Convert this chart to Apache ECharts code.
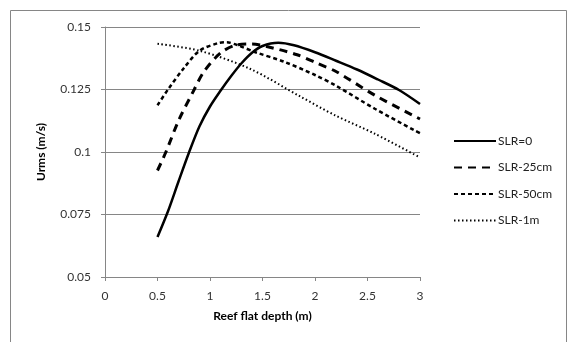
<!DOCTYPE html>
<html>
<head>
<meta charset="utf-8">
<script src="https://cdn.jsdelivr.net/npm/echarts@6/dist/echarts.min.js"></script>
<style>
  html, body { margin: 0; padding: 0; background: #fff; }
  #chart { width: 576px; height: 342px; }
</style>
</head>
<body>
<div id="chart"></div>
<script>
var slr0_x = [0.5, 0.6, 0.7, 0.8, 0.9, 1.0, 1.1, 1.2, 1.3, 1.4, 1.5, 1.65, 1.8, 2.0, 2.2, 2.4, 2.6, 2.8, 3.0];
var slr0_y = [0.066, 0.0763, 0.0882, 0.0998, 0.1103, 0.1182, 0.1245, 0.1303, 0.1355, 0.1397, 0.1424, 0.1437, 0.1427, 0.1399, 0.1365, 0.133, 0.129, 0.1248, 0.1192];

var slr25_x = [0.5, 0.58, 0.7, 0.85, 0.94, 1.1, 1.25, 1.4, 1.54, 1.83, 2.02, 2.2, 2.57, 2.93, 3.0];
var slr25_y = [0.0926, 0.1, 0.1125, 0.125, 0.132, 0.1396, 0.1428, 0.1432, 0.1422, 0.1389, 0.1355, 0.1322, 0.1227, 0.1147, 0.1132];

var slr50_x = [0.5, 0.6, 0.75, 0.9, 1.08, 1.16, 1.27, 1.44, 1.7, 2.0, 2.2, 2.57, 2.95, 3.0];
var slr50_y = [0.1187, 0.125, 0.1335, 0.1405, 0.1436, 0.1439, 0.1426, 0.1398, 0.1362, 0.1308, 0.1265, 0.1173, 0.1086, 0.1075];

var slr1m_x = [0.5, 0.9, 1.38, 1.86, 2.19, 2.57, 3.0];
var slr1m_y = [0.1433, 0.1405, 0.1333, 0.1222, 0.1147, 0.1073, 0.0978];

var seriesNames = ['SLR=0', 'SLR-25cm', 'SLR-50cm', 'SLR-1m'];

var pairs = function (xs, ys) {
    return xs.map(function (x, i) { return [x, ys[i]]; });
};

var gray = '#868686';
var font = 'Lato, "Open Sans", sans-serif';

var mkLine = function (name, data, width, dash) {
    return {
        name: name,
        type: 'line',
        data: data,
        smooth: 0.3,
        symbol: 'none',
        lineStyle: { color: '#000', width: width, type: dash },
        itemStyle: { color: '#000' }
    };
};

var chart = echarts.init(document.getElementById('chart'));
chart.setOption({
    animation: false,
    backgroundColor: '#fff',
    graphic: [{
        type: 'rect',
        shape: { x: 10.5, y: 10.5, width: 556, height: 340 },
        style: { fill: 'none', stroke: gray, lineWidth: 1 }
    }],
    grid: { left: 105, right: 156, top: 27, bottom: 65 },
    legend: {
        orient: 'vertical',
        left: 448,
        top: 130,
        itemWidth: 42,
        itemHeight: 14,
        itemGap: 14.5,
        itemStyle: { opacity: 0 },
        textStyle: { fontFamily: font, fontSize: 12, color: '#222', padding: [0, 0, 0, -3] },
        data: seriesNames
    },
    xAxis: {
        type: 'value',
        min: 0, max: 3, interval: 0.5,
        name: 'Reef flat depth (m)',
        nameLocation: 'middle',
        nameGap: 33,
        nameTextStyle: { fontFamily: font, fontSize: 12, fontWeight: 'bold', color: '#000' },
        axisLine: { lineStyle: { color: gray } },
        axisTick: { show: true, length: 4, lineStyle: { color: gray } },
        axisLabel: { fontFamily: font, fontSize: 12, color: '#333', margin: 13 },
        splitLine: { show: false }
    },
    yAxis: {
        type: 'value',
        min: 0.05, max: 0.15, interval: 0.025,
        name: 'Urms (m/s)',
        nameLocation: 'middle',
        nameRotate: 90,
        nameGap: 58,
        nameTextStyle: { fontFamily: font, fontSize: 12, fontWeight: 'bold', color: '#000' },
        axisLine: { show: true, lineStyle: { color: gray } },
        axisTick: { show: true, length: 4, lineStyle: { color: gray } },
        axisLabel: { fontFamily: font, fontSize: 12, color: '#333', margin: 14 },
        splitLine: { show: true, lineStyle: { color: gray, width: 1 } }
    },
    series: [
        mkLine(seriesNames[0], pairs(slr0_x, slr0_y), 2.5, 'solid'),
        mkLine(seriesNames[1], pairs(slr25_x, slr25_y), 3, [8, 6]),
        mkLine(seriesNames[2], pairs(slr50_x, slr50_y), 2.5, [4, 3]),
        mkLine(seriesNames[3], pairs(slr1m_x, slr1m_y), 2, [1.5, 2.5])
    ]
});
</script>
</body>
</html>
